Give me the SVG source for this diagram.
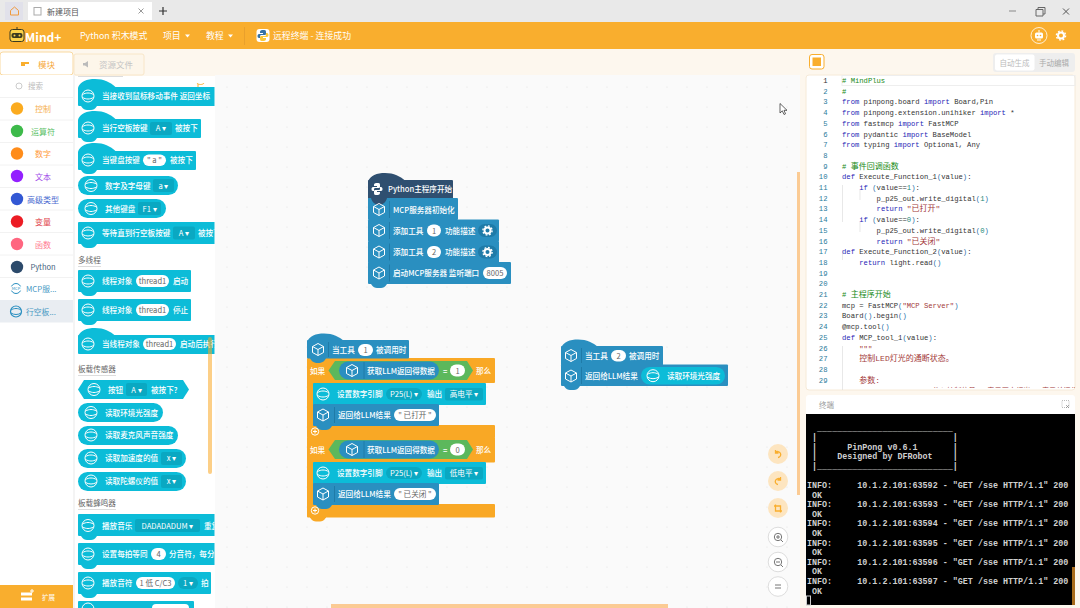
<svg xmlns="http://www.w3.org/2000/svg" xmlns:xlink="http://www.w3.org/1999/xlink" width="1080" height="608" viewBox="0 0 1080 608">
<style>
text{font-family:"Noto Sans CJK SC","Noto Sans",sans-serif;white-space:pre}
.t{fill:#fff;font-size:7.6px;font-weight:500}
.k{fill:#666;font-size:7.6px;text-anchor:middle}
.dd{fill:#fff;font-size:7.6px;text-anchor:middle}
.c{fill:#0cbcd8}.b{fill:#2a8fc0}.d{fill:#2f4f70}.o{fill:#f9a825}.g{fill:#5cb85c}
.cd{fill:#0aa8c2}.bd{fill:#1f7ba8}
.p{fill:#fff}
.ic{fill:none;stroke:#fff;stroke-width:1}
.sec{fill:#666;font-size:7.6px}
.ul{stroke:#ddd;stroke-width:1}
.m{font-size:8px;text-anchor:middle}
.code{font-family:"Liberation Mono","Noto Sans CJK SC",monospace;font-size:7.2px;fill:#333}
.kw{fill:#1d1db5}.cm{fill:#178a17}.st{fill:#a33a3a}.nm{fill:#1b8a78}.br{fill:#2b6fa8}
.cj{font-size:8px}
.ln{font-family:"Liberation Mono",monospace;font-size:7.2px;fill:#2b7a9b;text-anchor:end}
.term{font-family:"Liberation Mono",monospace;font-size:8.4px;fill:#cfcfcf;font-weight:700}
.top{fill:#fff;font-size:8.9px}
.btn{fill:#fde5c0}
.zb{fill:#fff;stroke:#ddd}
.ac{fill:none;stroke:#f9ae2e;stroke-width:1.300}
.zi{fill:none;stroke:#777;stroke-width:1}
.gl{stroke:#dedede;stroke-width:.7}
</style>
<defs>
<pattern id="dots" x="5" y="5" width="20" height="20" patternUnits="userSpaceOnUse"><circle cx="2" cy="2" r=".6" fill="#e0e0e0"/></pattern>
<path id="n" d="M3 -1H19V0C17 3 15 4 13 4H9C7 4 5 3 3 0Z"/>
<path id="h" d="M0 8.500C2 2.500 9 0 17 0C26 0 32 3 38 8.500Z"/>
<g id="iu"><circle class="ic" r="6"/><path class="ic" d="M-5.500 -1.500C-2 -3.500 2 -3.500 5.500 -1.500M-5.500 1.500C-2 3.500 2 3.500 5.500 1.500"/></g>
<g id="im"><path class="ic" d="M0 -6L5.500 -3V3L0 6L-5.500 3V-3ZM-5.500 -3L0 0L5.500 -3M0 0V6"/></g>
<g id="gear"><circle r="3" fill="none" stroke="#fff" stroke-width="2"/><circle r="4.600" fill="none" stroke="#fff" stroke-width="1.400" stroke-dasharray="1.800 1.800"/></g>
<clipPath id="pc"><rect x="75" y="76" width="139.500" height="532"/></clipPath>
<clipPath id="cc"><rect x="806" y="75" width="269" height="313"/></clipPath>
</defs>

<rect width="1080" height="608" fill="#fdf7ee"/>

<g id="titlebar">
<rect width="1080" height="22" fill="#e9e9e9"/>
<rect x="5" y="2" width="18" height="18" fill="#e1e1ea"/>
<path d="M10.500 10.500L14.500 7L18.500 10.500V15H10.500Z" fill="none" stroke="#f09a3e"/>
<rect x="28" y="2" width="124" height="18" fill="#fff"/>
<rect x="34" y="7.500" width="7" height="7.500" fill="none" stroke="#aaa"/>
<text x="47" y="14.500" font-size="8" fill="#555">新建项目</text>
<path d="M138.500 8.500L143.500 13.500M143.500 8.500L138.500 13.500" stroke="#999"/>
<path d="M159 11H167M163 7V15" stroke="#333" stroke-width="1.200"/>
<path d="M1009 11H1016" stroke="#999" stroke-width="1.200"/>
<path d="M1036 9.500H1043V16H1036ZM1038 9.500V7.500H1045V14H1043" fill="none" stroke="#666"/>
<path d="M1063 8.500L1069 14.500M1069 8.500L1063 14.500" stroke="#555"/>
</g>

<g id="menubar">
<rect y="22" width="1080" height="27" fill="#f9ae2e"/>
<path d="M17 27V30" stroke="#3a3a20"/>
<rect x="10" y="29.500" width="14" height="12" rx="2.500" fill="#fbd24a" stroke="#3a3a20"/>
<rect x="11.500" y="33" width="11" height="5" rx="2" fill="#3a3a20"/>
<circle cx="14.500" cy="35.500" r="1" fill="#fbd24a"/><circle cx="19.500" cy="35.500" r="1" fill="#fbd24a"/>
<text x="25" y="42" font-size="12" font-weight="700" fill="#fff" font-family="Liberation Sans">Mind+</text>
<text class="top" x="80" y="38.500">Python 积木模式</text>
<text class="top" x="163" y="38.500">项目</text><path d="M185 34.500H190L187.500 37.500Z" fill="#fff"/>
<text class="top" x="206" y="38.500">教程</text><path d="M228 34.500H233L230.500 37.500Z" fill="#fff"/>
<path d="M244.500 27V45" stroke="#e9a02c"/>
<rect x="256.500" y="29" width="13" height="13" rx="3" fill="#fff"/>
<path d="M263 30C260 30 260 31 260 33H263V34H259C257 34 257 38 259 38H260V36C260 35 261 35 262 35H265C266 35 266 34 266 33V32C266 30 265 30 263 30Z" fill="#3572a5"/>
<path d="M263 41C266 41 266 40 266 38H263V37H267C269 37 269 33 267 33H266V35C266 36 265 36 264 36H261C260 36 260 37 260 38V39C260 41 261 41 263 41Z" fill="#fbc93a"/>
<text class="top" x="273" y="38.500">远程终端 - 连接成功</text>
<circle cx="1039" cy="35.500" r="8" fill="none" stroke="#fff" stroke-width=".8"/>
<rect x="1035" y="32.500" width="8" height="6" rx="1.500" fill="#fff"/>
<circle cx="1037.500" cy="35.500" r=".8" fill="#f9ae2e"/><circle cx="1040.500" cy="35.500" r=".8" fill="#f9ae2e"/>
<path d="M1039 30V32.500M1037 40H1041" stroke="#fff"/>
<use href="#gear" x="1061" y="35.500"/>
</g>

<g id="left-panel">
<rect x="0" y="52" width="73" height="23" rx="3" fill="#fff" stroke="#f9d9a0"/>
<path d="M21 62H29V64H25V66H21Z" fill="#f9ae2e"/>
<text x="38" y="68" font-size="8.500" fill="#f6a93b">模块</text>
<rect x="74" y="54" width="70" height="21" rx="2" fill="#fdf6ea" stroke="#f8e6c8"/>
<path d="M83 63H85L88 61V67.500L85 65.500H83Z" fill="#bbb"/>
<text x="99" y="68" font-size="8.500" fill="#c4c4c4">资源文件</text>
<rect y="75" width="74" height="533" fill="#fff"/>
<rect x="73" y="75" width="2" height="533" fill="#f4f4f4"/>
<circle cx="19" cy="86" r="3" fill="none" stroke="#ccc"/>
<text x="28" y="89" font-size="7.500" fill="#bbb">搜索</text>
<path d="M0 97.500H73M0 120H73M0 142.500H73M0 165H73M0 187.500H73M0 210H73M0 232.500H73M0 255H73M0 277.500H73" stroke="#f2f2f2"/>
<circle cx="17" cy="108.500" r="6.200" fill="#fbab1f"/><text class="m" x="43" y="112" style="fill:#f6b04f">控制</text>
<circle cx="17" cy="131" r="6.200" fill="#3dba4a"/><text class="m" x="43" y="134.500" style="fill:#5cc168">运算符</text>
<circle cx="17" cy="153.500" r="6.200" fill="#ff8c1a"/><text class="m" x="43" y="157" style="fill:#ff9a3a">数字</text>
<circle cx="17" cy="176" r="6.200" fill="#9320ff"/><text class="m" x="43" y="179.500" style="fill:#a04ae8">文本</text>
<circle cx="17" cy="199" r="6.200" fill="#3358d4"/><text class="m" x="43" y="202.500" style="fill:#4a6ad0">高级类型</text>
<circle cx="17" cy="221.500" r="6.200" fill="#ec1c24"/><text class="m" x="43" y="225" style="fill:#e04048">变量</text>
<circle cx="17" cy="244" r="6.200" fill="#ff6680"/><text class="m" x="43" y="247.500" style="fill:#ff7a90">函数</text>
<circle cx="17" cy="267" r="6.200" fill="#2c4a6b"/><text class="m" x="43" y="270" style="fill:#44607c;font-size:7.500px">Python</text>
<circle cx="16" cy="288.500" r="5" fill="none" stroke="#2a8fc0"/><rect x="10" y="286.500" width="12" height="4" fill="#fff"/><text x="16" y="290" font-size="4" text-anchor="middle" fill="#2a8fc0">MCP</text><text x="26" y="292" font-size="7.800" fill="#4a9ac4">MCP服...</text>
<rect y="300" width="73" height="22.500" fill="#e9edf2"/>
<circle cx="16" cy="311.500" r="5.500" fill="none" stroke="#2a8fc0" stroke-width="1.200"/><path d="M11 310C14 308 18 308 21 310M11 313C14 315 18 315 21 313" fill="none" stroke="#2a8fc0"/>
<text x="26" y="315" font-size="7.800" fill="#4a9ac4">行空板...</text>
<rect y="585" width="73" height="23" fill="#f9ae2e"/>
<path d="M21 594H32M21 599H32" stroke="#fff" stroke-width="3"/>
<path d="M30 591H34M32 589V593" stroke="#fff"/>
<text x="42" y="600" font-size="6.500" fill="#fff">扩展</text>
</g>

<g id="canvas">
<rect x="215" y="75" width="585" height="533" fill="#fafafa"/>
<rect x="215" y="75" width="585" height="533" fill="url(#dots)"/>
<rect x="797" y="172" width="3" height="323" fill="#fbcb94"/>
<rect x="331" y="604" width="337" height="4" fill="#fbcb94"/>
<path d="M780 103.500V113L782.300 110.800L784 114.500L785.500 113.800L784 110.300H787Z" fill="#fff" stroke="#222" stroke-width=".7"/>
</g>

<g id="palette">
<rect x="75" y="76" width="140" height="532" fill="#fff"/>
<g clip-path="url(#pc)">
<path d="M78 76.500H123" class="ul"/>
<path d="M198 84V88M197 83C198 85 203 85 204 83" stroke="#f9ae2e" fill="none"/>

<use href="#h" x="78" y="79" class="c"/><rect class="c" x="78" y="87" width="140" height="19" rx="1"/><use href="#n" x="78" y="106" class="c"/><use href="#iu" x="88" y="96"/><text class="t" x="102" y="99">当接收到鼠标移动事件 返回坐标</text>

<use href="#h" x="78" y="111" class="c"/><rect class="c" x="78" y="119" width="123" height="19" rx="1"/><use href="#n" x="78" y="138" class="c"/><use href="#iu" x="88" y="128"/><text class="t" x="102" y="131">当行空板按键</text><rect class="cd" x="150" y="122" width="22" height="13" rx="2"/><text class="dd" x="161" y="131">A ▾</text><text class="t" x="175" y="131">被按下</text>

<use href="#h" x="78" y="143" class="c"/><rect class="c" x="78" y="151" width="118" height="19" rx="1"/><use href="#n" x="78" y="170" class="c"/><use href="#iu" x="88" y="160"/><text class="t" x="102" y="163">当键盘按键</text><rect class="p" x="143" y="154.500" width="23" height="11.500" rx="5.700"/><text class="k" x="154.500" y="163">" a "</text><text class="t" x="170" y="163">被按下</text>

<rect class="c" x="78" y="176" width="100" height="19" rx="9.500"/><use href="#iu" x="91" y="185.500"/><text class="t" x="105" y="188.500">数字及字母键</text><rect class="cd" x="153" y="179" width="21" height="13" rx="2"/><text class="dd" x="163.500" y="188.500">a ▾</text>

<rect class="c" x="78" y="199" width="88" height="19" rx="9.500"/><use href="#iu" x="91" y="208.500"/><text class="t" x="105" y="211.500">其他键盘</text><rect class="cd" x="138" y="202" width="23" height="13" rx="2"/><text class="dd" x="149.500" y="211.500">F1 ▾</text>

<rect class="c" x="78" y="222" width="140" height="22" rx="1"/><use href="#n" x="78" y="244" class="c"/><use href="#iu" x="88" y="233"/><text class="t" x="102" y="236">等待直到行空板按键</text><rect class="cd" x="173" y="226.500" width="22" height="13" rx="2"/><text class="dd" x="184" y="236">A ▾</text><text class="t" x="198" y="236">被按下</text>

<text class="sec" x="78" y="262.500">多线程</text><path class="ul" d="M78 266.500H101"/>

<rect class="c" x="78" y="270" width="113" height="22" rx="1"/><use href="#n" x="78" y="292" class="c"/><use href="#iu" x="88" y="281"/><text class="t" x="102" y="284">线程对象</text><rect class="p" x="136" y="275" width="33" height="12" rx="6"/><text class="k" x="152.500" y="284">thread1</text><text class="t" x="173" y="284">启动</text>

<rect class="c" x="78" y="299" width="113" height="22" rx="1"/><use href="#n" x="78" y="321" class="c"/><use href="#iu" x="88" y="310"/><text class="t" x="102" y="313">线程对象</text><rect class="p" x="136" y="304" width="33" height="12" rx="6"/><text class="k" x="152.500" y="313">thread1</text><text class="t" x="173" y="313">停止</text>

<use href="#h" x="78" y="328" class="c"/><rect class="c" x="78" y="335" width="140" height="19" rx="1"/><use href="#iu" x="88" y="344"/><text class="t" x="102" y="347">当线程对象</text><rect class="p" x="143" y="338" width="33" height="12" rx="6"/><text class="k" x="159.500" y="347">thread1</text><text class="t" x="180" y="347">启动后执行</text>

<text class="sec" x="78" y="371.500">板载传感器</text><path class="ul" d="M78 375.500H116"/>

<path class="c" d="M84 380H183L189 389.500L183 399H84L78 389.500Z"/><use href="#iu" x="94" y="389.500"/><text class="t" x="108" y="392.500">按钮</text><rect class="cd" x="126" y="383" width="21" height="13" rx="2"/><text class="dd" x="136.500" y="392.500">A ▾</text><text class="t" x="151" y="392.500">被按下?</text>

<rect class="c" x="78" y="403" width="85" height="19" rx="9.500"/><use href="#iu" x="91" y="412.500"/><text class="t" x="105" y="415.500">读取环境光强度</text>
<rect class="c" x="78" y="426" width="100" height="19" rx="9.500"/><use href="#iu" x="91" y="435"/><text class="t" x="105" y="438">读取麦克风声音强度</text>
<rect class="c" x="78" y="449" width="108" height="19" rx="9.500"/><use href="#iu" x="91" y="458"/><text class="t" x="105" y="461">读取加速度的值</text><rect class="cd" x="161" y="452" width="21" height="13" rx="2"/><text class="dd" x="171.500" y="461">x ▾</text>
<rect class="c" x="78" y="472" width="108" height="19" rx="9.500"/><use href="#iu" x="91" y="481"/><text class="t" x="105" y="484">读取陀螺仪的值</text><rect class="cd" x="161" y="475" width="21" height="13" rx="2"/><text class="dd" x="171.500" y="484">x ▾</text>

<text class="sec" x="78" y="505.500">板载蜂鸣器</text><path class="ul" d="M78 509.500H116"/>

<rect class="c" x="78" y="514" width="140" height="22" rx="1"/><use href="#n" x="78" y="536" class="c"/><use href="#iu" x="88" y="525.500"/><text class="t" x="102" y="528.500">播放音乐</text><rect class="cd" x="135" y="519" width="65" height="13" rx="2"/><text class="dd" x="167.500" y="528.500">DADADADUM ▾</text><text class="t" x="204" y="528.500">重复</text>

<rect class="c" x="78" y="543" width="140" height="22" rx="1"/><use href="#n" x="78" y="565" class="c"/><use href="#iu" x="88" y="554"/><text class="t" x="102" y="557">设置每拍等同</text><rect class="p" x="151" y="548" width="15" height="12" rx="6"/><text class="k" x="158.500" y="557">4</text><text class="t" x="169" y="557">分音符，每分</text>

<rect class="c" x="78" y="572" width="133" height="22" rx="1"/><use href="#n" x="78" y="594" class="c"/><use href="#iu" x="88" y="583"/><text class="t" x="102" y="586">播放音符</text><rect class="p" x="136" y="577" width="39" height="12" rx="6"/><text class="k" x="155.500" y="586">1 低 C/C3</text><rect class="cd" x="178" y="577" width="20" height="12" rx="6"/><text class="dd" x="188" y="586">1 ▾</text><text class="t" x="201" y="586">拍</text>

<rect class="c" x="78" y="601" width="116" height="10" rx="1"/><circle cx="88" cy="609" r="6" fill="none" stroke="#fff"/><rect class="p" x="152" y="604" width="37" height="8" rx="4"/>
<rect x="208" y="337" width="4" height="137" rx="2" fill="#f9a825" opacity=".55"/>
</g>
</g>

<g id="main-stack">
<use href="#h" x="368" y="173" class="d"/><rect class="d" x="368" y="180" width="85" height="19" rx="1"/>
<rect class="b" x="368" y="198" width="90" height="22" rx="1"/>
<path d="M371 198H387C386 202 383 205 379 205C375 205 372 202 371 198Z" class="d"/>
<path fill="#fff" d="M377 183C374 183 374 184 374 186H377V187H373C371 187 371 191 373 191H374V189C374 188 375 188 376 188H379C380 188 380 187 380 186V185C380 183 379 183 377 183ZM377 195C380 195 380 194 380 192H377V191H381C383 191 383 187 381 187H380V189C380 190 379 190 378 190H375C374 190 374 191 374 192V193C374 195 375 195 377 195Z"/>
<text class="t" x="388" y="192">Python主程序开始</text>
<use href="#im" x="379" y="209.500"/><path d="M389.500 201V218" stroke="#1f7ba8"/><text class="t" x="393" y="212.500">MCP服务器初始化</text>

<rect class="b" x="368" y="219.500" width="131" height="22" rx="1"/><use href="#im" x="379" y="230.500"/><path d="M389.500 222V239" stroke="#1f7ba8"/><text class="t" x="393" y="233.500">添加工具</text><rect class="p" x="427" y="224.500" width="14" height="12" rx="6"/><text class="k" x="434" y="233.500">1</text><text class="t" x="445" y="233.500">功能描述</text><rect class="bd" x="478" y="224" width="19" height="13" rx="6.500"/><use href="#gear" x="487.500" y="230.500"/>

<rect class="b" x="368" y="241" width="131" height="22" rx="1"/><use href="#im" x="379" y="252"/><path d="M389.500 243.500V260.500" stroke="#1f7ba8"/><text class="t" x="393" y="255">添加工具</text><rect class="p" x="427" y="246" width="14" height="12" rx="6"/><text class="k" x="434" y="255">2</text><text class="t" x="445" y="255">功能描述</text><rect class="bd" x="478" y="245.500" width="19" height="13" rx="6.500"/><use href="#gear" x="487.500" y="252"/>

<rect class="b" x="368" y="262" width="143" height="22" rx="1"/><use href="#n" x="368" y="284" class="b"/><use href="#im" x="379" y="273"/><path d="M389.500 264.500V281.500" stroke="#1f7ba8"/><text class="t" x="393" y="276">启动MCP服务器 监听端口</text><rect class="p" x="483" y="267" width="24" height="12" rx="6"/><text class="k" x="495" y="276">8005</text>
</g>

<g id="tool-1-stack">
<rect class="o" x="307" y="358" width="188" height="25" rx="1"/>
<rect class="o" x="307" y="380" width="7" height="50"/>
<rect class="o" x="307" y="425" width="188" height="13" rx="1"/>
<rect class="o" x="307" y="437" width="188" height="25.500" rx="1"/>
<rect class="o" x="307" y="459" width="7" height="50"/>
<rect class="o" x="307" y="504" width="188" height="13.500" rx="1"/>
<use href="#n" x="307" y="517.500" class="o"/>

<use href="#h" x="307" y="333.500" class="b"/><rect class="b" x="307" y="340" width="102" height="18.500" rx="1"/>
<path d="M310 358H326C325 361 322 363 318 363C314 363 311 361 310 358Z" class="b"/>
<use href="#im" x="318" y="349.500"/><path d="M328.500 342V357" stroke="#1f7ba8"/><text class="t" x="332" y="352.500">当工具</text><rect class="p" x="358" y="344" width="15" height="12" rx="6"/><text class="k" x="365.500" y="353">1</text><text class="t" x="376" y="352.500">被调用时</text>

<text class="t" x="310" y="373.500">如果</text>
<path class="g" d="M335 361H467L473 370.500L467 380H335L328.500 370.500Z"/>
<rect class="b" x="339" y="361.500" width="100" height="18" rx="9"/><use href="#im" x="352" y="370.500"/><path d="M364 362V379" stroke="#1f7ba8"/><text class="t" x="367" y="373.500">获取LLM返回得数据</text>
<text class="t" x="443" y="373.500">=</text><rect class="p" x="450" y="364.500" width="15" height="12" rx="6"/><text class="k" x="457.500" y="373.500">1</text>
<text class="t" x="476" y="373.500">那么</text>

<rect class="c" x="313" y="383" width="173" height="22" rx="1"/><use href="#iu" x="323" y="394"/><text class="t" x="337" y="397">设置数字引脚</text><rect class="cd" x="386" y="388" width="36" height="12" rx="6"/><text class="dd" x="404" y="397">P25(L) ▾</text><text class="t" x="427" y="397">输出</text><rect class="cd" x="445" y="388" width="38" height="12.500" rx="2"/><text class="dd" x="464" y="397">高电平 ▾</text>
<rect class="b" x="313" y="404" width="126" height="22" rx="1"/><use href="#n" x="313" y="426" class="b"/><use href="#im" x="323" y="415"/><path d="M334.500 407V423" stroke="#1f7ba8"/><text class="t" x="338" y="418">返回给LLM结果</text><rect class="p" x="394" y="409" width="42" height="12" rx="6"/><text class="k" x="415" y="418">" 已打开 "</text>
<circle cx="315" cy="431.500" r="3.700" fill="none" stroke="#fff"/><path d="M313 431.500H317M315 429.500V433.500" stroke="#fff"/>

<text class="t" x="310" y="452.500">如果</text>
<path class="g" d="M335 440H467L473 449.500L467 459H335L328.500 449.500Z"/>
<rect class="b" x="339" y="440.500" width="100" height="18" rx="9"/><use href="#im" x="352" y="449.500"/><path d="M364 441V458" stroke="#1f7ba8"/><text class="t" x="367" y="452.500">获取LLM返回得数据</text>
<text class="t" x="443" y="452.500">=</text><rect class="p" x="450" y="443.500" width="15" height="12" rx="6"/><text class="k" x="457.500" y="452.500">0</text>
<text class="t" x="476" y="452.500">那么</text>

<rect class="c" x="313" y="462" width="173" height="22" rx="1"/><use href="#iu" x="323" y="473"/><text class="t" x="337" y="476">设置数字引脚</text><rect class="cd" x="386" y="467" width="36" height="12" rx="6"/><text class="dd" x="404" y="476">P25(L) ▾</text><text class="t" x="427" y="476">输出</text><rect class="cd" x="445" y="467" width="38" height="12.500" rx="2"/><text class="dd" x="464" y="476">低电平 ▾</text>
<rect class="b" x="313" y="483" width="126" height="22" rx="1"/><use href="#n" x="313" y="505" class="b"/><use href="#im" x="323" y="494"/><path d="M334.500 486V502" stroke="#1f7ba8"/><text class="t" x="338" y="497">返回给LLM结果</text><rect class="p" x="394" y="488" width="42" height="12" rx="6"/><text class="k" x="415" y="497">" 已关闭 "</text>
<circle cx="315" cy="510.500" r="3.700" fill="none" stroke="#fff"/><path d="M313 510.500H317M315 508.500V512.500" stroke="#fff"/>
</g>

<g id="tool-2-stack">
<use href="#h" x="561" y="339.500" class="b"/><rect class="b" x="561" y="346" width="102" height="19.500" rx="1"/><use href="#im" x="571" y="355.500"/><path d="M581.500 348V363" stroke="#1f7ba8"/><text class="t" x="585" y="358.500">当工具</text><rect class="p" x="611" y="350" width="15" height="11.500" rx="5.700"/><text class="k" x="618.500" y="358.500">2</text><text class="t" x="629" y="358.500">被调用时</text>
<rect class="b" x="561" y="364.500" width="167" height="21.500" rx="1"/><use href="#n" x="561" y="386" class="b"/>
<use href="#im" x="571" y="376"/><path d="M581.500 367V384" stroke="#1f7ba8"/><text class="t" x="585" y="378.500">返回给LLM结果</text>
<rect class="c" x="641" y="367" width="84" height="17.500" rx="8.700"/><use href="#iu" x="653" y="375.700"/><text class="t" x="667" y="378.500">读取环境光强度</text>
</g>

<g id="canvas-tools">
<circle class="btn" cx="778" cy="454" r="10"/><path class="ac" d="M775.500 452.500A3 3 0 1 1 778 457.500M775.500 450V453H778.500"/>
<circle class="btn" cx="778" cy="481" r="10"/><path class="ac" d="M780.500 479.500A3 3 0 1 0 778 484.500M780.500 477V480H777.500"/>
<circle class="btn" cx="778" cy="508" r="10"/><path class="ac" d="M775.500 504.500V511H782M774 506H780.500V512.500"/>
<circle class="zb" cx="778" cy="537" r="9.800"/><circle class="zi" cx="778" cy="537" r="3.700"/><path class="zi" d="M776 537H780M778 535V539M781 540L783 542"/>
<circle class="zb" cx="778" cy="562" r="9.800"/><circle class="zi" cx="778" cy="562" r="3.700"/><path class="zi" d="M776 562H780M781 565L783 567"/>
<circle class="zb" cx="778" cy="586.500" r="9.800"/><path class="zi" d="M775 585H781M775 588H781"/>
</g>

<g id="code-toolbar">
<rect x="809.500" y="54.500" width="14.500" height="14.500" rx="2.500" fill="#fff" stroke="#f9ae2e"/>
<rect x="812.500" y="57.500" width="8.500" height="8.500" fill="#f9ae2e"/>
<rect x="993" y="53" width="82" height="19" rx="3" fill="#eee"/>
<rect x="995" y="54.500" width="39.500" height="16" rx="2" fill="#fff"/>
<text x="999.500" y="65.500" font-size="7.500" fill="#bbb">自动生成</text>
<text x="1039" y="65.500" font-size="7.500" fill="#aaa">手动编辑</text>
</g>

<g id="code-panel">
<rect x="806" y="75" width="269" height="315" rx="3" fill="#fff" stroke="#f6ead8"/>
<rect x="842" y="75.500" width="233" height="10" fill="none" stroke="#eee"/>
<path class="gl" d="M842.500 185V222M842.500 250V260M842.500 346V390M860 190V200M860 222V232"/>
<g clip-path="url(#cc)">
<text class="ln" x="827.500" y="83" style="fill:#333">1</text>
<text class="ln" x="827.500" y="93.700">2</text><text class="ln" x="827.500" y="104.400">3</text><text class="ln" x="827.500" y="115.100">4</text><text class="ln" x="827.500" y="125.800">5</text><text class="ln" x="827.500" y="136.500">6</text><text class="ln" x="827.500" y="147.200">7</text><text class="ln" x="827.500" y="157.900">8</text><text class="ln" x="827.500" y="168.600">9</text><text class="ln" x="827.500" y="179.300">10</text><text class="ln" x="827.500" y="190">11</text><text class="ln" x="827.500" y="200.700">12</text><text class="ln" x="827.500" y="211.400">13</text><text class="ln" x="827.500" y="222.100">14</text><text class="ln" x="827.500" y="232.800">15</text><text class="ln" x="827.500" y="243.500">16</text><text class="ln" x="827.500" y="254.200">17</text><text class="ln" x="827.500" y="264.900">18</text><text class="ln" x="827.500" y="275.600">19</text><text class="ln" x="827.500" y="286.300">20</text><text class="ln" x="827.500" y="297">21</text><text class="ln" x="827.500" y="307.700">22</text><text class="ln" x="827.500" y="318.400">23</text><text class="ln" x="827.500" y="329.100">24</text><text class="ln" x="827.500" y="339.800">25</text><text class="ln" x="827.500" y="350.500">26</text><text class="ln" x="827.500" y="361.200">27</text><text class="ln" x="827.500" y="371.900">28</text><text class="ln" x="827.500" y="382.600">29</text>

<text class="code cm" x="842" y="83"># MindPlus</text>
<text class="code cm" x="842" y="93.700">#</text>
<text class="code" x="842" y="104.400"><tspan class="kw">from</tspan> pinpong.board <tspan class="kw">import</tspan> Board,Pin</text>
<text class="code" x="842" y="115.100"><tspan class="kw">from</tspan> pinpong.extension.unihiker <tspan class="kw">import</tspan> *</text>
<text class="code" x="842" y="125.800"><tspan class="kw">from</tspan> fastmcp <tspan class="kw">import</tspan> FastMCP</text>
<text class="code" x="842" y="136.500"><tspan class="kw">from</tspan> pydantic <tspan class="kw">import</tspan> BaseModel</text>
<text class="code" x="842" y="147.200"><tspan class="kw">from</tspan> typing <tspan class="kw">import</tspan> Optional, Any</text>
<text class="code cm" x="842" y="168.600"># <tspan class="cj">事件回调函数</tspan></text>
<text class="code" x="842" y="179.300"><tspan class="kw">def</tspan> Execute_Function_1<tspan class="br">(</tspan>value<tspan class="br">)</tspan>:</text>
<text class="code" x="859.300" y="190"><tspan class="kw">if</tspan> <tspan class="br">(</tspan>value==<tspan class="nm">1</tspan><tspan class="br">)</tspan>:</text>
<text class="code" x="876.600" y="200.700">p_p25_out.write_digital<tspan class="br">(</tspan><tspan class="nm">1</tspan><tspan class="br">)</tspan></text>
<text class="code" x="876.600" y="211.400"><tspan class="kw">return</tspan> <tspan class="st cj">"已打开"</tspan></text>
<text class="code" x="859.300" y="222.100"><tspan class="kw">if</tspan> <tspan class="br">(</tspan>value==<tspan class="nm">0</tspan><tspan class="br">)</tspan>:</text>
<text class="code" x="876.600" y="232.800">p_p25_out.write_digital<tspan class="br">(</tspan><tspan class="nm">0</tspan><tspan class="br">)</tspan></text>
<text class="code" x="876.600" y="243.500"><tspan class="kw">return</tspan> <tspan class="st cj">"已关闭"</tspan></text>
<text class="code" x="842" y="254.200"><tspan class="kw">def</tspan> Execute_Function_2<tspan class="br">(</tspan>value<tspan class="br">)</tspan>:</text>
<text class="code" x="859.300" y="264.900"><tspan class="kw">return</tspan> light.read<tspan class="br">()</tspan></text>
<text class="code cm" x="842" y="297"># <tspan class="cj">主程序开始</tspan></text>
<text class="code" x="842" y="307.700">mcp = FastMCP<tspan class="br">(</tspan><tspan class="st">"MCP Server"</tspan><tspan class="br">)</tspan></text>
<text class="code" x="842" y="318.400">Board<tspan class="br">()</tspan>.begin<tspan class="br">()</tspan></text>
<text class="code" x="842" y="329.100">@mcp.tool<tspan class="br">()</tspan></text>
<text class="code" x="842" y="339.800"><tspan class="kw">def</tspan> MCP_tool_1<tspan class="br">(</tspan>value<tspan class="br">)</tspan>:</text>
<text class="code st" x="859.300" y="350.500">"""</text>
<text class="code st cj" x="859.300" y="361.200">控制LED灯光的通断状态。</text>
<text class="code st cj" x="859.300" y="382.600">参数:</text>
<text class="code st" x="876.600" y="393.300">value (int): 传入控制信号，1表示开启灯光，0表示关闭灯光</text>
</g>
</g>

<g id="terminal">
<rect x="806" y="395" width="269" height="20" rx="3" fill="#fff"/>
<text x="819" y="407.500" font-size="7.500" fill="#999">终端</text>
<rect x="1062" y="400.500" width="7" height="7" fill="none" stroke="#bbb" stroke-dasharray="1 1"/>
<path d="M1066 405L1069 408M1069 405L1066 408" stroke="#888" stroke-width=".7"/>
<rect x="806" y="414" width="269" height="191" fill="#000"/>
<text class="term" x="807" y="430.500">  ___________________________</text>
<text class="term" x="807" y="440"> |                           |</text>
<text class="term" x="807" y="449.500"> |      PinPong v0.6.1       |</text>
<text class="term" x="807" y="459"> |    Designed by DFRobot    |</text>
<text class="term" x="807" y="468.500"> |___________________________|</text>
<text class="term" x="807" y="488">INFO:     10.1.2.101:63592 - "GET /sse HTTP/1.1" 200</text><text class="term" x="812" y="497.500">OK</text>
<text class="term" x="807" y="507.200">INFO:     10.1.2.101:63593 - "GET /sse HTTP/1.1" 200</text><text class="term" x="812" y="516.700">OK</text>
<text class="term" x="807" y="526.400">INFO:     10.1.2.101:63594 - "GET /sse HTTP/1.1" 200</text><text class="term" x="812" y="535.900">OK</text>
<text class="term" x="807" y="545.600">INFO:     10.1.2.101:63595 - "GET /sse HTTP/1.1" 200</text><text class="term" x="812" y="555.100">OK</text>
<text class="term" x="807" y="564.800">INFO:     10.1.2.101:63596 - "GET /sse HTTP/1.1" 200</text><text class="term" x="812" y="574.300">OK</text>
<text class="term" x="807" y="584">INFO:     10.1.2.101:63597 - "GET /sse HTTP/1.1" 200</text><text class="term" x="812" y="593.500">OK</text>
<rect x="806.500" y="596" width="4" height="9" fill="none" stroke="#ccc"/>
<rect x="1072" y="567" width="3" height="38" fill="#a86c1c"/>
</g>
</svg>
